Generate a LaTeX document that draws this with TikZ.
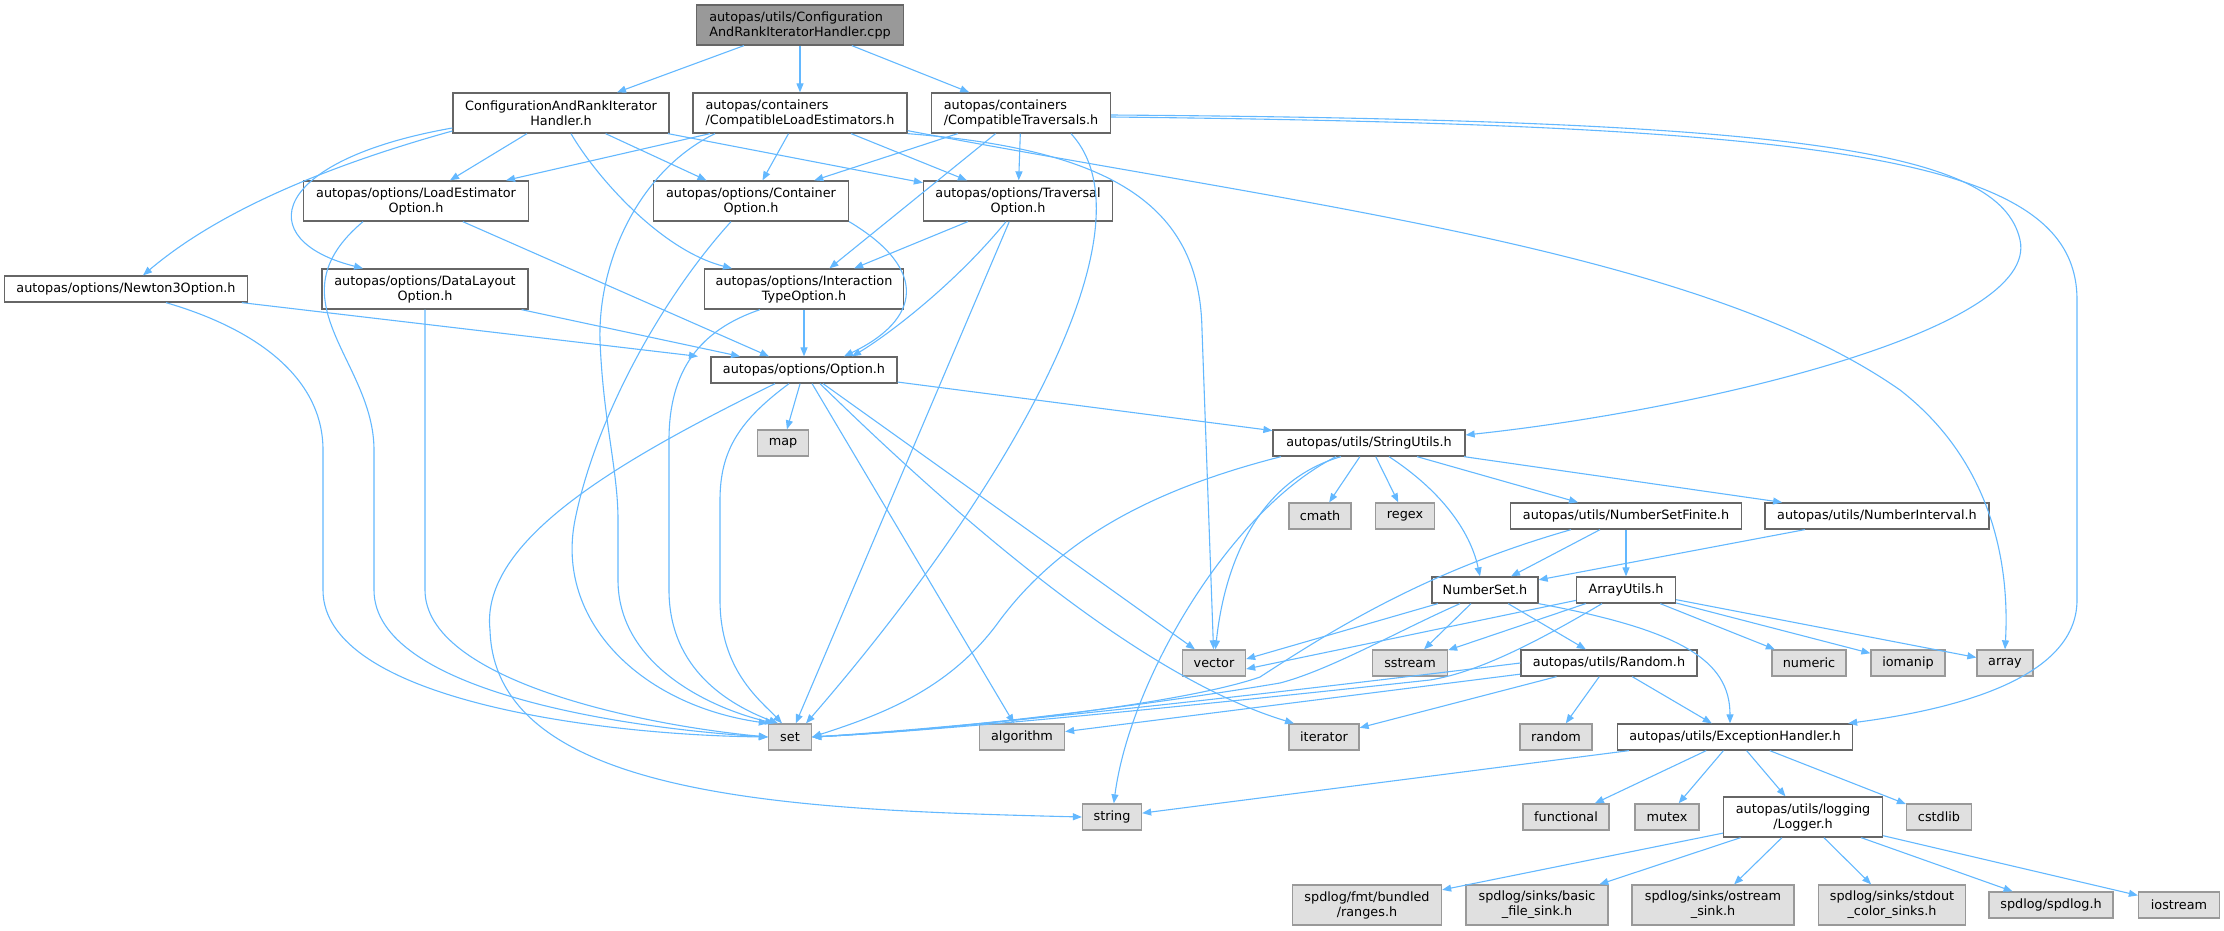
\documentclass[tikz,border=0pt]{standalone}
\usepackage{fontspec}
\setmainfont{DejaVu Sans}
\usepackage{tikz}
\usetikzlibrary{arrows.meta}

\definecolor{edgeblue}{HTML}{63B8FF}
\definecolor{boxgray}{HTML}{666666}
\definecolor{sysgray}{HTML}{999999}
\definecolor{sysfill}{HTML}{E0E0E0}

\begin{document}
\begin{tikzpicture}[x=1pt,y=1pt,>={Triangle[length=9pt,width=7pt]}]

	\tikzset{hfile/.style={draw=boxgray, fill=white, line width=1.3pt, inner sep=1pt, align=center, font=\fontsize{12.8}{15}\selectfont}}
	\tikzset{sysfile/.style={hfile, draw=sysgray, fill=sysfill}}
	\tikzset{rootfile/.style={hfile, fill=sysgray, align=left}}
	\tikzset{one/.style={minimum height=26pt}, two/.style={minimum height=40pt}}
	\tikzset{dep/.style={draw=edgeblue, line width=1.1pt, ->}}

	\useasboundingbox (0,0) rectangle (2224,-931);

	\node[rootfile, two, minimum width=207pt] (root) at (800,-25) {autopas/utils/Configuration\\AndRankIteratorHandler.cpp};

	\node[hfile, two, minimum width=216pt] (cfgh) at (561,-113) {ConfigurationAndRankIterator\\Handler.h};
	\node[hfile, two, minimum width=214pt, align=left] (cle) at (800,-113) {autopas/containers\\/CompatibleLoadEstimators.h};
	\node[hfile, two, minimum width=179pt, align=left] (ctr) at (1021,-113) {autopas/containers\\/CompatibleTraversals.h};

	\node[hfile, two, minimum width=225pt] (leo) at (416,-201) {autopas/options/LoadEstimator\\Option.h};
	\node[hfile, two, minimum width=195pt] (cont) at (751,-201) {autopas/options/Container\\Option.h};
	\node[hfile, two, minimum width=189pt] (trav) at (1018,-201) {autopas/options/Traversal\\Option.h};

	\node[hfile, one, minimum width=243pt] (newton) at (126,-289) {autopas/options/Newton3Option.h};
	\node[hfile, two, minimum width=206pt] (dlo) at (425,-289) {autopas/options/DataLayout\\Option.h};
	\node[hfile, two, minimum width=199pt] (ito) at (804,-289) {autopas/options/Interaction\\TypeOption.h};

	\node[hfile, one, minimum width=186pt] (opt) at (804,-370) {autopas/options/Option.h};
	\node[sysfile, one, minimum width=51pt] (map) at (783,-443) {map};
	\node[hfile, one, minimum width=192pt] (su) at (1369,-443) {autopas/utils/StringUtils.h};

	\node[sysfile, one, minimum width=62pt] (cmath) at (1320,-516) {cmath};
	\node[sysfile, one, minimum width=59pt] (regex) at (1405,-516) {regex};
	\node[hfile, one, minimum width=231pt] (nsf) at (1626,-516) {autopas/utils/NumberSetFinite.h};
	\node[hfile, one, minimum width=224pt] (ni) at (1877,-516) {autopas/utils/NumberInterval.h};

	\node[hfile, one, minimum width=106pt] (ns) at (1485,-590) {NumberSet.h};
	\node[hfile, one, minimum width=99pt] (au) at (1626,-590) {ArrayUtils.h};

	\node[sysfile, one, minimum width=63pt] (vector) at (1214,-663) {vector};
	\node[sysfile, one, minimum width=75pt] (sstream) at (1410,-663) {sstream};
	\node[hfile, one, minimum width=176pt] (rnd) at (1609,-663) {autopas/utils/Random.h};
	\node[sysfile, one, minimum width=74pt] (numeric) at (1809,-663) {numeric};
	\node[sysfile, one, minimum width=74pt] (iomanip) at (1908,-663) {iomanip};
	\node[sysfile, one, minimum width=56pt] (array) at (2005,-663) {array};

	\node[sysfile, one, minimum width=43pt] (set) at (790,-737) {set};
	\node[sysfile, one, minimum width=85pt] (algorithm) at (1022,-737) {algorithm};
	\node[sysfile, one, minimum width=70pt] (iterator) at (1324,-737) {iterator};
	\node[sysfile, one, minimum width=72pt] (random) at (1556,-737) {random};
	\node[hfile, one, minimum width=235pt] (eh) at (1735,-737) {autopas/utils/ExceptionHandler.h};

	\node[sysfile, one, minimum width=59pt] (string) at (1112,-817) {string};
	\node[sysfile, one, minimum width=86pt] (functional) at (1566,-817) {functional};
	\node[sysfile, one, minimum width=64pt] (mutex) at (1667,-817) {mutex};
	\node[hfile, two, minimum width=159pt] (logger) at (1803,-817) {autopas/utils/logging\\/Logger.h};
	\node[sysfile, one, minimum width=65pt] (cstdlib) at (1939,-817) {cstdlib};

	\node[sysfile, two, minimum width=149pt] (ranges) at (1367,-905) {spdlog/fmt/bundled\\/ranges.h};
	\node[sysfile, two, minimum width=142pt] (basic) at (1537,-905) {spdlog/sinks/basic\\\_file\_sink.h};
	\node[sysfile, two, minimum width=162pt] (ostream) at (1713,-905) {spdlog/sinks/ostream\\\_sink.h};
	\node[sysfile, two, minimum width=147pt] (stdout) at (1892,-905) {spdlog/sinks/stdout\\\_color\_sinks.h};
	\node[sysfile, one, minimum width=124pt] (spdlog) at (2051,-905) {spdlog/spdlog.h};
	\node[sysfile, one, minimum width=81pt] (iostream) at (2179,-905) {iostream};

	\draw[dep] (root) -- (cfgh);
	\draw[dep] (root) -- (cle);
	\draw[dep] (root) -- (ctr);

	\draw[dep] (cfgh) -- (leo);
	\draw[dep] (cfgh) -- (cont);
	\draw[dep] (cfgh) -- (trav);
	\draw[dep] ([xshift=10pt]cfgh.south) .. controls (595,-175) and (660,-250) .. ([xshift=-72pt]ito.north);
	\draw[dep] ([yshift=-18pt]cfgh.west) .. controls (330,-165) and (220,-210) .. ([xshift=17pt]newton.north);
	\draw[dep] ([yshift=-15pt]cfgh.west) .. controls (270,-160) and (250,-240) .. ([xshift=-62pt]dlo.north);

	\draw[dep] (cle) -- (leo);
	\draw[dep] (cle) -- (cont);
	\draw[dep] (cle) -- (trav);
	\draw[dep] ([xshift=-85pt]cle.south) .. controls (640,-170) and (598,-260) .. (600,-340) .. controls (603,-420) and (618,-470) .. (618,-520) -- (618,-580) .. controls (618,-660) and (700,-705) .. ([xshift=-16pt]set.north);
	\draw[dep] (cle.south east) .. controls (1120,-150) and (1200,-210) .. (1202,-330) -- (vector);
	\draw[dep] ([yshift=3pt]cle.south east) .. controls (1300,-205) and (1700,-250) .. (1900,-390) .. controls (1990,-460) and (2010,-560) .. (array.north);

	\draw[dep] (ctr) -- (cont);
	\draw[dep] (ctr) -- (trav);
	\draw[dep] (ctr) -- (ito);
	\draw[dep] ([xshift=50pt]ctr.south) .. controls (1160,-230) and (1000,-500) .. ([xshift=16pt]set.north);
	\draw[dep] ([yshift=-2pt]ctr.east) .. controls (1800,-120) and (2000,-150) .. (2020,-240) .. controls (2040,-330) and (1700,-410) .. ([yshift=8pt]su.east);
	\draw[dep] ([yshift=-4pt]ctr.east) .. controls (1850,-125) and (2077,-160) .. (2077,-300) -- (2077,-600) .. controls (2077,-680) and (1950,-710) .. ([xshift=-5pt]eh.north east);

	\draw[dep] (leo) -- ([xshift=-35pt]opt.north);
	\draw[dep] ([xshift=-53pt]leo.south) .. controls (270,-300) and (374,-360) .. (374,-450) -- (374,-590) .. controls (374,-690) and (620,-728) .. (set.west);
	\draw[dep] (cont.south east) .. controls (930,-270) and (920,-320) .. ([xshift=40pt]opt.north);
	\draw[dep] ([xshift=-20pt]cont.south) .. controls (660,-300) and (595,-420) .. (575,-520) .. controls (555,-620) and (640,-705) .. (set.north west);
	\draw[dep] (trav) -- (ito);
	\draw[dep] ([xshift=-12pt]trav.south) .. controls (950,-290) and (880,-340) .. ([xshift=48pt]opt.north);
	\draw[dep] (trav) -- (set);

	\draw[dep] (newton) -- ([xshift=-106pt]opt.north);
	\draw[dep] ([xshift=40pt]newton.south) .. controls (260,-330) and (323,-380) .. (323,-450) -- (323,-590) .. controls (323,-700) and (600,-735) .. (set.west);
	\draw[dep] (dlo) -- ([xshift=-64pt]opt.north);
	\draw[dep] (dlo.south) -- (425,-590) .. controls (425,-680) and (640,-725) .. (set.west);
	\draw[dep] (ito) -- (opt);
	\draw[dep] ([xshift=-44pt]ito.south) .. controls (700,-330) and (669,-370) .. (669,-440) -- (669,-590) .. controls (669,-670) and (730,-705) .. ([xshift=-12pt]set.north);

	\draw[dep] (opt) -- (map);
	\draw[dep] (opt) -- (su);
	\draw[dep] (opt) -- (algorithm);
	\draw[dep] (opt) -- (vector);
	\draw[dep] ([xshift=16pt]opt.south) .. controls (980,-540) and (1150,-680) .. ([xshift=-30pt]iterator.north);
	\draw[dep] ([xshift=-15pt]opt.south) .. controls (740,-420) and (720,-450) .. (720,-500) -- (720,-600) .. controls (720,-670) and (760,-700) .. ([xshift=-8pt]set.north);
	\draw[dep] ([xshift=-29pt]opt.south) .. controls (620,-460) and (480,-540) .. (490,-630) .. controls (495,-800) and (800,-810) .. (string.west);

	\draw[dep] (su) -- (cmath);
	\draw[dep] (su) -- (regex);
	\draw[dep] (su) -- (nsf);
	\draw[dep] (su) -- (ni);
	\draw[dep] ([xshift=20pt]su.south) .. controls (1440,-490) and (1470,-530) .. ([xshift=-5pt]ns.north);
	\draw[dep] ([xshift=-28pt]su.south) .. controls (1260,-480) and (1225,-560) .. (vector);
	\draw[dep] ([xshift=-33pt]su.south) .. controls (1230,-510) and (1130,-680) .. (string);
	\draw[dep] ([xshift=-88pt]su.south) .. controls (1150,-490) and (1060,-540) .. (1000,-620) .. controls (950,-690) and (880,-715) .. (set.east);

	\draw[dep] (nsf) -- (ns);
	\draw[dep] (nsf) -- (au);
	\draw[dep] ([xshift=-55pt]nsf.south) .. controls (1430,-570) and (1340,-625) .. (1260,-677) .. controls (1180,-705) and (950,-730) .. (set.east);
	\draw[dep] (ni) -- (ns);

	\draw[dep] (ns) -- ([yshift=4pt]vector.east);
	\draw[dep] (ns) -- (sstream);
	\draw[dep] (ns) -- (rnd);
	\draw[dep] (ns.south east) .. controls (1680,-630) and (1730,-660) .. ([xshift=-5pt]eh.north);
	\draw[dep] ([xshift=-25pt]ns.south) .. controls (1400,-630) and (1330,-670) .. (1280,-683) .. controls (1150,-705) and (950,-730) .. (set.east);

	\draw[dep] (au) -- ([yshift=-6pt]vector.east);
	\draw[dep] (au) -- (sstream);
	\draw[dep] (au) -- (numeric);
	\draw[dep] (au) -- (iomanip);
	\draw[dep] (au) -- (array);
	\draw[dep] ([xshift=-24pt]au.south) .. controls (1540,-640) and (1480,-672) .. (1430,-680) .. controls (1200,-705) and (950,-730) .. (set.east);

	\draw[dep] (rnd.west) .. controls (1300,-690) and (1000,-725) .. (set.east);
	\draw[dep] (rnd) -- (algorithm);
	\draw[dep] (rnd) -- (iterator);
	\draw[dep] (rnd) -- (random);
	\draw[dep] (rnd) -- (eh);

	\draw[dep] (eh) -- (string);
	\draw[dep] (eh) -- (functional);
	\draw[dep] (eh) -- (mutex);
	\draw[dep] (eh) -- (logger);
	\draw[dep] (eh) -- (cstdlib);

	\draw[dep] (logger) -- (ranges);
	\draw[dep] (logger) -- (basic);
	\draw[dep] (logger) -- (ostream);
	\draw[dep] (logger) -- (stdout);
	\draw[dep] (logger) -- (spdlog);
	\draw[dep] (logger) -- (iostream);

\end{tikzpicture}
\end{document}
